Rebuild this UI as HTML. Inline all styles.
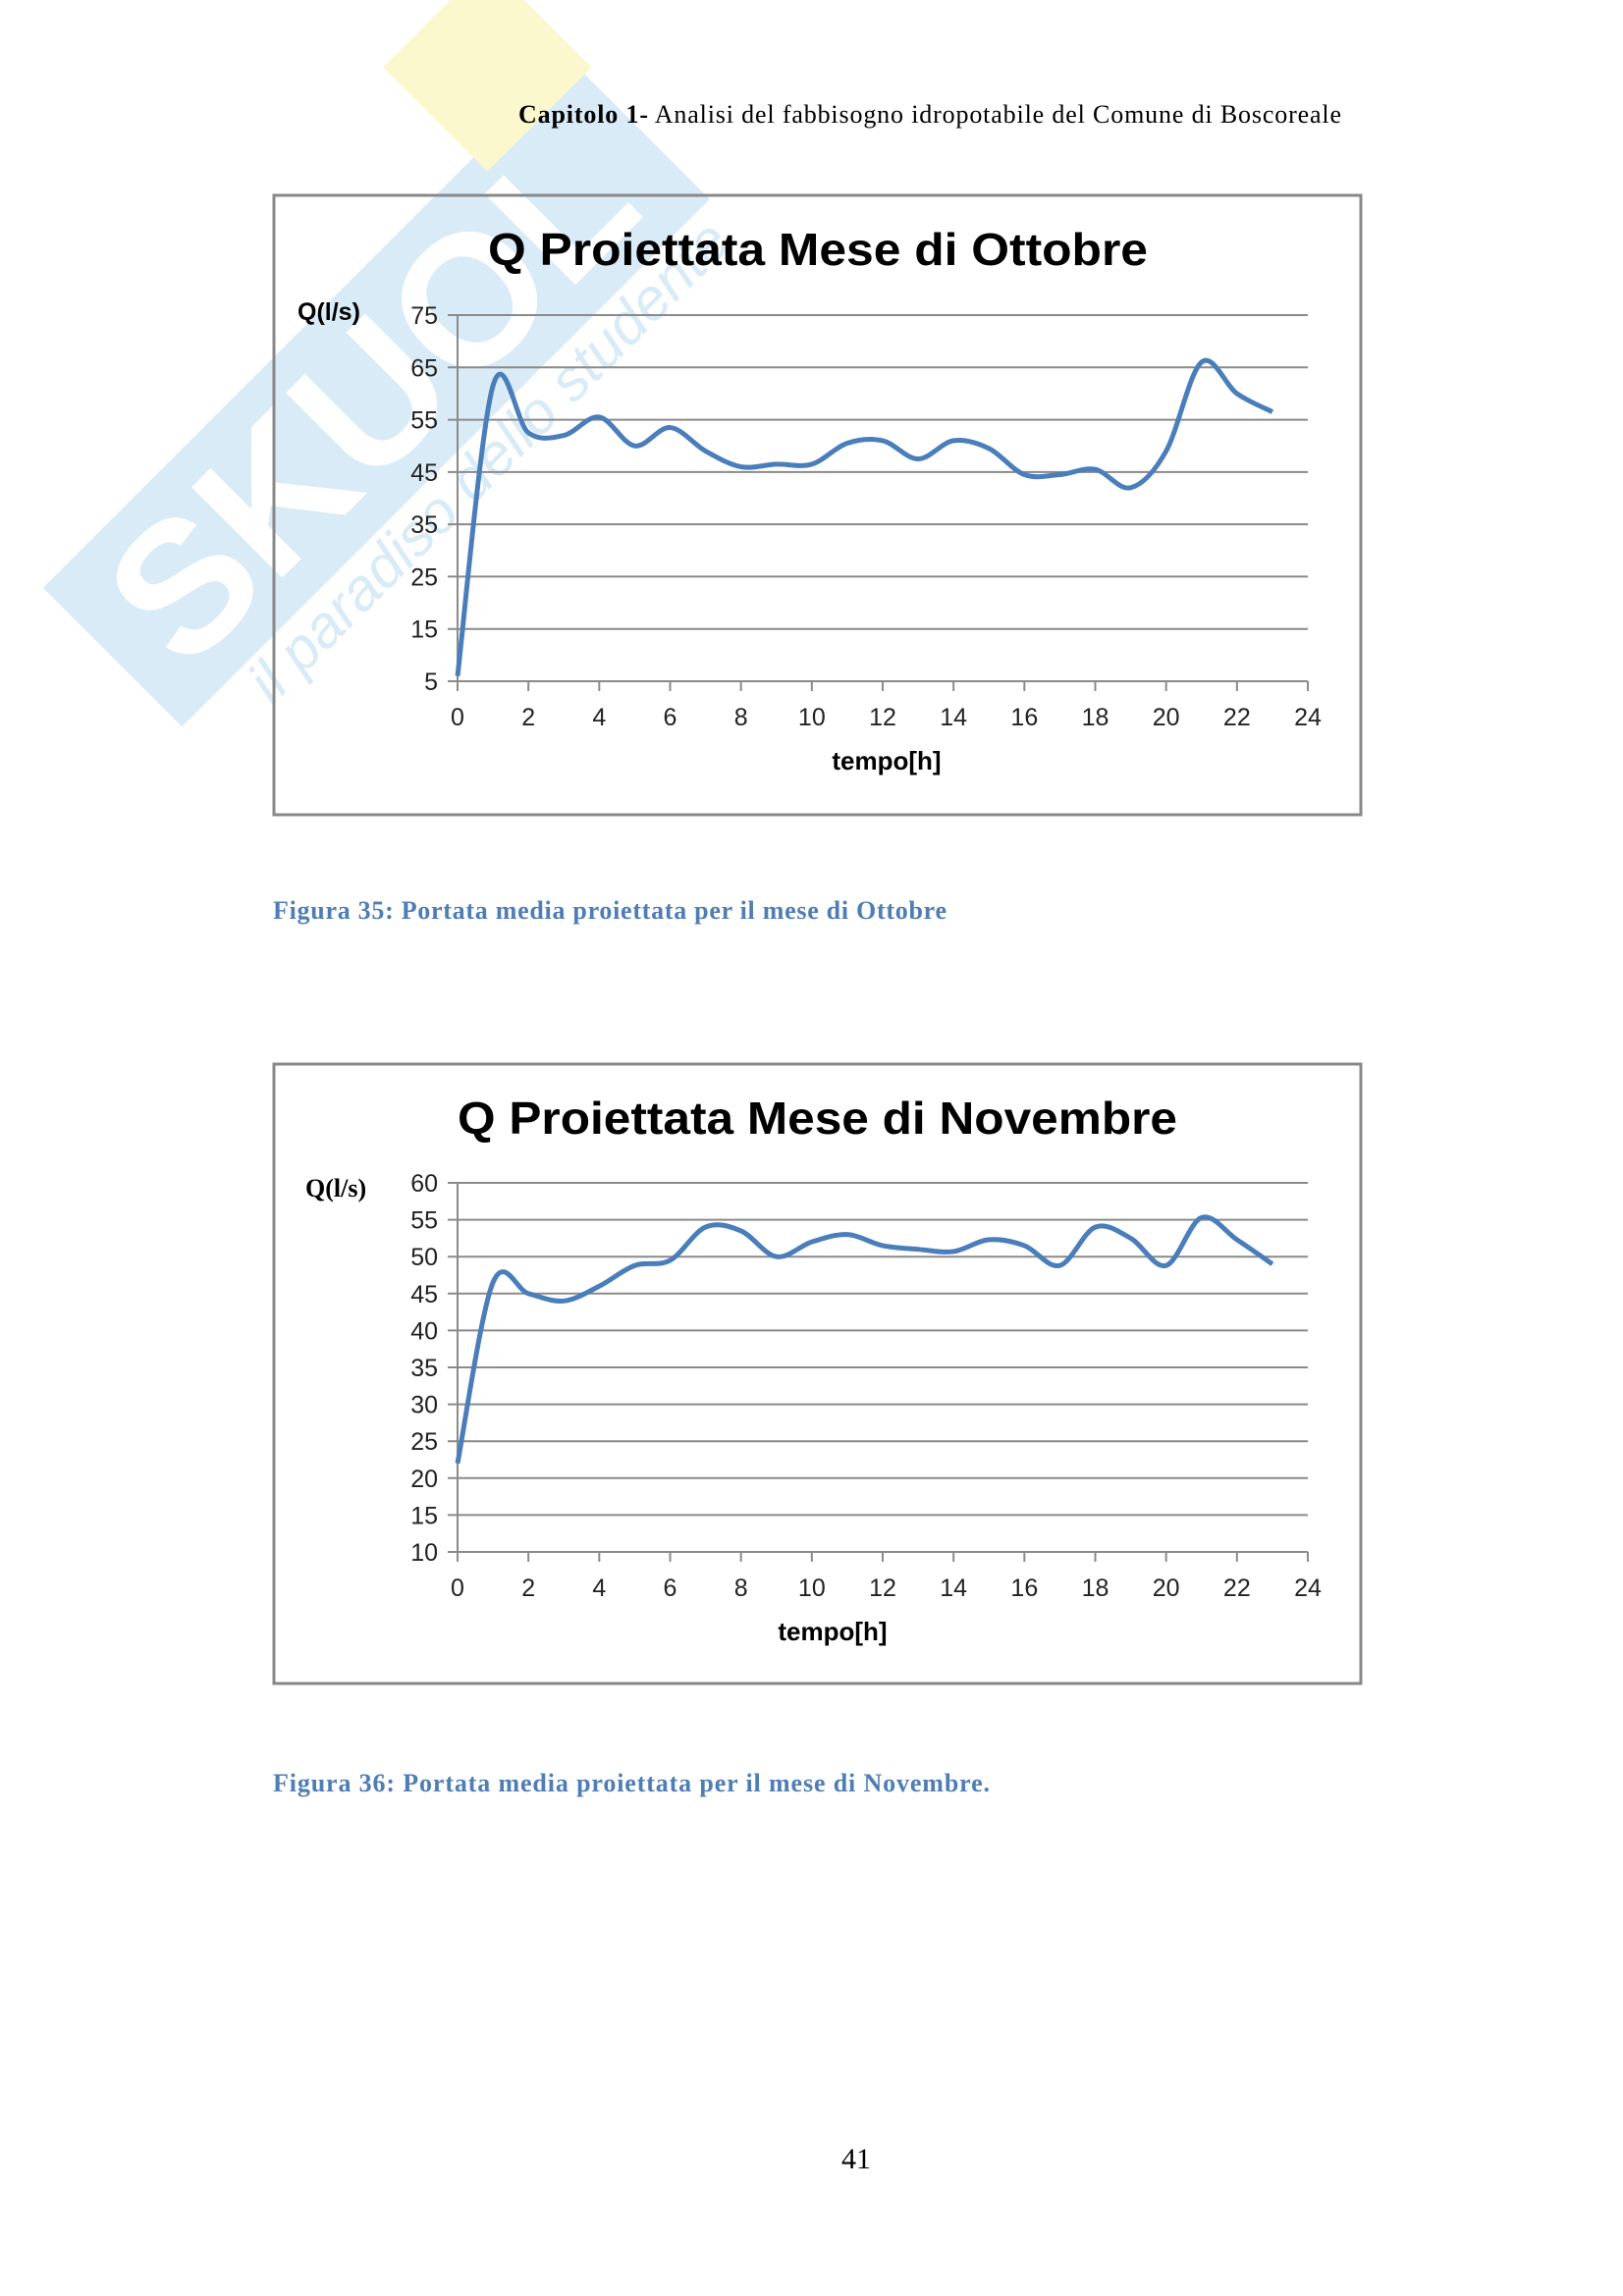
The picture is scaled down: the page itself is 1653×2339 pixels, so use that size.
<!DOCTYPE html>
<html><head><meta charset="utf-8"><style>
html,body{margin:0;padding:0;background:#fff}
svg{display:block}
</style></head><body>
<svg id="s" width="1653" height="2339" viewBox="0 0 1653 2339" xmlns="http://www.w3.org/2000/svg">
<g opacity="0.55" transform="translate(25,95)">
 <g transform="rotate(-45 330 320)">
  <rect x="-20" y="230" width="760" height="200" fill="#b9dcf0"/>
  <text x="20" y="395" font-family="Liberation Sans, sans-serif" font-weight="bold" font-size="190" fill="#ffffff">SKUOL</text>
  <rect x="600" y="100" width="150" height="150" fill="#fbf3a6"/>
  <text x="60" y="480" font-family="Liberation Sans, sans-serif" font-style="italic" font-size="60" fill="#b9dcf0">il paradiso dello studente</text>
 </g>
</g>
<text x="528" y="125" font-family="Liberation Serif, serif" font-size="26" fill="#000" textLength="838"><tspan font-weight="bold">Capitolo 1-</tspan> Analisi del fabbisogno idropotabile del Comune di Boscoreale</text>
<g id="c1"></g>
<g id="c2"></g>
<text x="278" y="936" font-family="Liberation Serif, serif" font-weight="bold" font-size="26" fill="#4F7DB5" textLength="686">Figura 35: Portata media proiettata per il mese di Ottobre</text>
<text x="278" y="1825" font-family="Liberation Serif, serif" font-weight="bold" font-size="26" fill="#4F7DB5" textLength="730">Figura 36: Portata media proiettata per il mese di Novembre.</text>
<text x="872" y="2209" text-anchor="middle" font-family="Liberation Serif, serif" font-size="30" fill="#000">41</text>
</svg>
<script>
function chart(id,o){
 var g=document.getElementById(id),h='';
 h+='<rect x="'+o.bx+'" y="'+o.by+'" width="'+o.bw+'" height="'+o.bh+'" fill="none" stroke="#888" stroke-width="3"/>';
 var X0=466,X1=1332,sx=(X1-X0)/24;
 function Y(v){return o.y0+(v-o.vmin)/(o.vmax-o.vmin)*(o.y1-o.y0);}
 for(var v=o.vmin;v<=o.vmax+0.01;v+=o.step){
  var y=Y(v);
  h+='<line x1="'+(X0-10)+'" x2="'+X1+'" y1="'+y+'" y2="'+y+'" stroke="#8a8a8a" stroke-width="2"/>';
  h+='<text x="'+(X0-20)+'" y="'+(y+9)+'" text-anchor="end" font-family="Liberation Sans, sans-serif" font-size="25" fill="#222">'+v+'</text>';
 }
 h+='<line x1="'+X0+'" x2="'+X0+'" y1="'+o.y1+'" y2="'+(o.y0+10)+'" stroke="#8a8a8a" stroke-width="2"/>';
 for(var t=0;t<=24;t+=2){
  var x=X0+t*sx;
  h+='<line x1="'+x+'" x2="'+x+'" y1="'+o.y0+'" y2="'+(o.y0+10)+'" stroke="#8a8a8a" stroke-width="2"/>';
  h+='<text x="'+x+'" y="'+(o.y0+45)+'" text-anchor="middle" font-family="Liberation Sans, sans-serif" font-size="25" fill="#222">'+t+'</text>';
 }
 var p=o.d.map(function(v,i){return [X0+i*sx,Y(v)];});
 var d='M'+p[0][0]+','+p[0][1];
 for(var i=0;i<p.length-1;i++){
  var a=p[Math.max(i-1,0)],b=p[i],c=p[i+1],e=p[Math.min(i+2,p.length-1)];
  d+=' C'+(b[0]+(c[0]-a[0])/6)+','+(b[1]+(c[1]-a[1])/6)+' '+(c[0]-(e[0]-b[0])/6)+','+(c[1]-(e[1]-b[1])/6)+' '+c[0]+','+c[1];
 }
 h+='<path d="'+d+'" fill="none" stroke="#4A7EBB" stroke-width="5" stroke-linejoin="round"/>';
 h+='<text x="'+o.tx+'" y="'+o.ty+'" font-family="Liberation Sans, sans-serif" font-weight="bold" font-size="46" fill="#000" textLength="'+o.tl+'" lengthAdjust="spacingAndGlyphs">'+o.title+'</text>';
 h+=o.ql;
 h+='<text x="'+o.xl+'" y="'+(o.y0+90)+'" text-anchor="middle" font-family="Liberation Sans, sans-serif" font-weight="bold" font-size="26" fill="#000">tempo[h]</text>';
 g.innerHTML=h;
}
chart('c1',{bx:279,by:199,bw:1107,bh:631,y0:694,y1:321,vmin:5,vmax:75,step:10,
 d:[6,61.5,52.5,52,55.5,50,53.5,49,46,46.5,46.5,50.5,51,47.5,51,49.5,44.5,44.5,45.5,42,49,66,60,56.5],
 title:'Q Proiettata Mese di Ottobre',tx:497,ty:270,tl:672,xl:903,
 ql:'<text x="303" y="326" font-family="Liberation Sans, sans-serif" font-weight="bold" font-size="25" fill="#000">Q(l/s)</text>'});
chart('c2',{bx:279,by:1084,bw:1107,bh:631,y0:1581,y1:1205,vmin:10,vmax:60,step:5,
 d:[22,46.5,45,44,46,48.8,49.5,54,53.5,50,52,53,51.5,51,50.7,52.3,51.5,48.8,54,52.5,48.8,55.3,52.3,49],
 title:'Q Proiettata Mese di Novembre',tx:466,ty:1155,tl:733,xl:848,
 ql:'<text x="311" y="1219" font-family="Liberation Serif, serif" font-weight="bold" font-size="26" fill="#000">Q(l/s)</text>'});
</script>
</body></html>
